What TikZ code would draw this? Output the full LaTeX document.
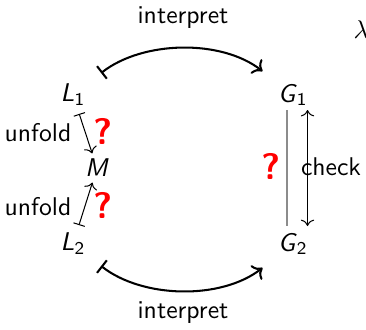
\documentclass[tikz,border=0pt]{standalone}
\usepackage{xcolor}
\usepackage{tikz}
\usetikzlibrary{arrows.meta,positioning}
\renewcommand{\familydefault}{\sfdefault}
\definecolor{qred}{HTML}{FF0000}
\definecolor{dimline}{HTML}{8C8C8C}
\newcommand{\lang}[2]{\textit{#1}\textsubscript{#2}}

\begin{document}
\begin{tikzpicture}[x=0.0137cm,y=0.0137cm,
    obj/.style={inner sep=2pt},
    lbl/.style={inner sep=1pt},
    qmark/.style={text=qred,font=\Large\bfseries,inner sep=1pt},
    maparr/.style={|->,thick,shorten <=5pt,shorten >=5pt,looseness=0.92}]
  \useasboundingbox (0,0) rectangle (366,-329);
  % objects
  \node[obj] (L1) at (73,-95) {\lang{L}{1}};
  \node[obj] (G1) at (293,-95) {\lang{G}{1}};
  \node[obj] (M) at (97,-168) {\textit{M}};
  \node[obj] (L2) at (73,-244) {\lang{L}{2}};
  \node[obj] (G2) at (293,-244) {\lang{G}{2}};
  \node (lam) at (361,-30) {$\lambda$};
  % interpret arcs
  \draw[maparr] (L1) to[out=38,in=142] (G1);
  \draw[maparr] (L2) to[out=-38,in=-142] (G2);
  \node[lbl] (i1) at (183,-18) {interpret};
  \node[lbl] (i2) at (183,-313) {interpret};
  % unfolding
  \draw[|->,shorten <=1pt] (L1) -- (M);
  \draw[|->,shorten <=1pt] (L2) -- (M);
  \node[lbl] (u1) at (38,-133) {unfold};
  \node[lbl] (u2) at (38,-207) {unfold};
  \node[qmark] (q1) at (103,-131) {?};
  \node[qmark] (q2) at (103,-205) {?};
  % check
  \coordinate (c1) at (287,-110);
  \coordinate (c2) at (287,-226);
  \draw[dimline] (c1) -- (c2);
  \draw[<->] ([xshift=8]c1) -- ([xshift=8]c2);
  \node[qmark] (q3) at (271,-166) {?};
  \node[lbl] (chk) at (331,-167) {check};
\end{tikzpicture}
\end{document}
